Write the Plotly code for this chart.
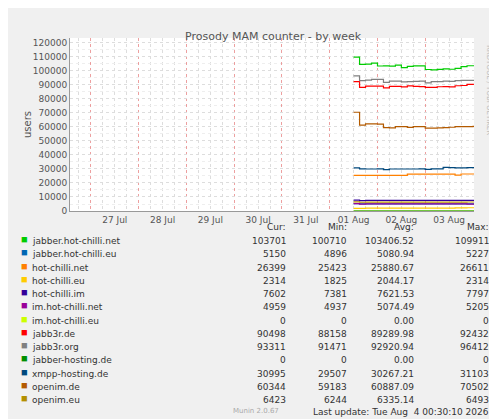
import pandas as pd
import plotly.graph_objs as go

# sampled every 3 hours from 1 Aug 12:00 to 4 Aug 00:00
times = pd.date_range('2026-08-01 12:00', periods=22, freq='3h')

names = ['jabber.hot-chilli.net', 'jabber.hot-chilli.eu', 'hot-chilli.net', 'hot-chilli.eu',
         'hot-chilli.im', 'im.hot-chilli.net', 'im.hot-chilli.eu', 'jabb3r.de', 'jabb3r.org',
         'jabber-hosting.de', 'xmpp-hosting.de', 'openim.de', 'openim.eu']
colors = ['#00CC00', '#0066B3', '#FF8000', '#FFCC00', '#330099', '#990099', '#CCFF00',
          '#FF0000', '#808080', '#008F00', '#00487D', '#B35A00', '#B38F00']

jabber_net = [109900, 104700, 104900, 105500, 103500, 103600, 103400, 104200, 102300, 103200, 103600,
              103600, 101000, 100800, 101100, 101500, 101200, 101800, 103000, 103700, 103700, 103700]
jabber_eu = [5227, 5100, 5100, 5080, 5080, 5080, 5080, 5080, 5080, 5080, 5080,
             5080, 5080, 5080, 5080, 5080, 5080, 5080, 5080, 5150, 5150, 5150]
hc_net = [25423, 25423, 25423, 25423, 25423, 25423, 25423, 25423, 25423, 26300, 26300,
          26300, 26300, 26300, 26300, 26300, 26300, 25600, 26399, 26399, 26399, 26399]
hc_eu = [1825, 1900, 2000, 2000, 2000, 2000, 2000, 2050, 2050, 2050, 2050,
         2050, 2050, 2100, 2100, 2100, 2100, 2200, 2200, 2314, 2314, 2314]
hc_im = [7797, 7381, 7650, 7650, 7650, 7620, 7620, 7620, 7620, 7620, 7620,
         7620, 7620, 7620, 7620, 7620, 7620, 7620, 7600, 7602, 7602, 7602]
im_net = [5205, 4937, 5070, 5070, 5070, 5070, 5070, 5070, 5070, 5070, 5070,
          5070, 5070, 5070, 5070, 5070, 5070, 5070, 5070, 4959, 4959, 4959]
im_eu = [0] * 22
jabb3r_de = [92400, 88300, 89200, 89200, 89100, 87900, 88900, 89000, 88600, 89300, 88900,
             88800, 88200, 88200, 88700, 88800, 88600, 89400, 89600, 90400, 90500, 90500]
jabb3r_org = [96400, 93000, 93400, 93900, 93900, 91800, 92700, 92700, 92200, 92300, 92500,
              92700, 91500, 92300, 92400, 92700, 92600, 93000, 93300, 93300, 93300, 93311]
jh_de = [0] * 22
xmpp_de = [30800, 30100, 30000, 30000, 30100, 29507, 30000, 30000, 30000, 30000, 30000,
           30100, 29700, 30100, 30100, 31103, 31000, 30800, 30800, 30900, 30995, 30995]
openim_de = [70502, 61300, 62200, 62200, 62000, 59500, 59300, 60300, 60200, 59700, 60300,
             60300, 59183, 59200, 59400, 59500, 59800, 60200, 60200, 60300, 60344, 60344]
openim_eu = [6493, 6244, 6330, 6330, 6330, 6330, 6330, 6330, 6330, 6330, 6330,
             6330, 6330, 6330, 6330, 6330, 6330, 6330, 6330, 6423, 6423, 6423]
series = [jabber_net, jabber_eu, hc_net, hc_eu, hc_im, im_net, im_eu,
          jabb3r_de, jabb3r_org, jh_de, xmpp_de, openim_de, openim_eu]

cur = ['103701', '5150', '26399', '2314', '7602', '4959', '0', '90498', '93311', '0', '30995', '60344', '6423']
mins = ['100710', '4896', '25423', '1825', '7381', '4937', '0', '88158', '91471', '0', '29507', '59183', '6244']
avg = ['103406.52', '5080.94', '25880.67', '2044.17', '7621.53', '5074.49', '0.00', '89289.98',
       '92920.94', '0.00', '30267.21', '60887.09', '6335.14']
maxs = ['109911', '5227', '26611', '2314', '7797', '5205', '0', '92432', '96412', '0', '31103', '70502', '6493']

# plot area in pixels
L, R, T, B = 62, 466, 30, 203
def px(x):
    return (x - L) / (R - L)
def py(y):
    return (B - y) / (B - T)

fig = go.Figure()
for n, c, s in zip(names, colors, series):
    fig.add_trace(go.Scatter(x=times, y=s, mode='lines', line=dict(color=c, width=1.2, shape='hv'),
                             name=n, showlegend=False))

font = dict(family='DejaVu Sans', size=9, color='#333333')
ann = []
ann.append(dict(x=px(265), y=py(20), xref='paper', yref='paper', showarrow=False,
                text='Prosody MAM counter - by week', font=dict(family='DejaVu Sans', size=11, color='#555555')))
cols = [(280, 'Cur:', cur), (341, 'Min:', mins), (408, 'Avg:', avg), (483, 'Max:', maxs)]
for xr, head, vals in cols:
    ann.append(dict(x=px(xr), y=py(226), xref='paper', yref='paper', xanchor='right', showarrow=False,
                    text=head, font=font))
    for i, v in enumerate(vals):
        ann.append(dict(x=px(xr), y=py(240 + i * 13.25), xref='paper', yref='paper', xanchor='right',
                        showarrow=False, text=v, font=font))
for i, (n, c) in enumerate(zip(names, colors)):
    yy = py(240 + i * 13.25)
    ann.append(dict(x=px(22), y=yy, xref='paper', yref='paper', xanchor='left', showarrow=False,
                    text=n, font=font))
    ann.append(dict(x=px(11), y=yy, xref='paper', yref='paper', xanchor='left', showarrow=False,
                    text='■', font=dict(size=11, color=c)))
ann.append(dict(x=px(483), y=py(411), xref='paper', yref='paper', xanchor='right', showarrow=False,
                text='Last update: Tue Aug  4 00:30:10 2026', font=font))
ann.append(dict(x=px(248), y=py(409), xref='paper', yref='paper', showarrow=False,
                text='Munin 2.0.67', font=dict(family='DejaVu Sans', size=7, color='#AAAAAA')))
ann.append(dict(x=px(487), y=py(35), xref='paper', yref='paper', yanchor='top', showarrow=False, textangle=90,
                text='RRDTOOL / TOBI OETIKER', font=dict(family='DejaVu Sans', size=7, color='#BBBBBB')))
ann.append(dict(x=px(12), y=0.5, xref='paper', yref='paper', showarrow=False, textangle=-90,
                text='users', font=dict(family='DejaVu Sans', size=10, color='#555555')))

fig.update_layout(
    width=497, height=419, margin=dict(l=L, r=497 - R, t=T, b=419 - B, autoexpand=False),
    paper_bgcolor='#F0F0F0', plot_bgcolor='white', annotations=ann,
    xaxis=dict(type='date', range=['2026-07-26 13:30', '2026-08-04 00:30'], dtick=86400000,
               tick0='2026-07-27', ticklabelmode='period', tickformat='%d %b', automargin=False,
               showgrid=True, gridcolor='rgba(230,120,120,0.7)', griddash='dot', gridwidth=1,
               minor=dict(dtick=6 * 3600000, showgrid=True, gridcolor='#DDDDDD', griddash='dot'),
               showline=True, linecolor='#999999', ticks='', zeroline=False,
               tickfont=dict(family='DejaVu Sans', size=9, color='#555555')),
    yaxis=dict(range=[0, 123500], dtick=10000, tickformat='d', automargin=False,
               showgrid=True, gridcolor='#DDDDDD', griddash='dot',
               minor=dict(dtick=5000, showgrid=True, gridcolor='#EEEEEE', griddash='dot'),
               showline=True, linecolor='#999999', zeroline=False, ticks='',
               tickfont=dict(family='DejaVu Sans', size=9, color='#555555')),
)
fig.write_html('out.html')
